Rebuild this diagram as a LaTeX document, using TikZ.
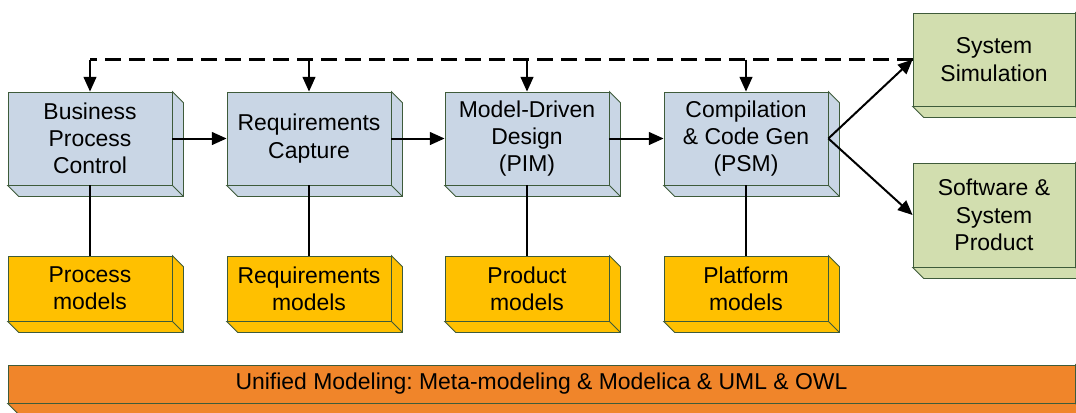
\documentclass[tikz,border=0pt]{standalone}
\usepackage{fontspec}
\setmainfont{Liberation Sans}
\usetikzlibrary{arrows.meta}
\frenchspacing
\definecolor{boxline}{HTML}{3E5B3A}
\definecolor{bluebox}{HTML}{C9D6E5}
\definecolor{yellowbox}{HTML}{FFC000}
\definecolor{greenbox}{HTML}{D2DEAF}
\definecolor{orangebox}{HTML}{F0852A}
\tikzset{
    cube/.style={draw=boxline, line width=0.6pt, inner sep=0pt, align=center,
        font=\fontsize{17.2}{20.4}\selectfont},
    stagebox/.style={cube, fill=bluebox, minimum width=123pt, minimum height=69.75pt},
    modelbox/.style={cube, fill=yellowbox, minimum width=123pt, minimum height=48.75pt},
    resultbox/.style={cube, fill=greenbox, minimum width=121.5pt},
    flow/.style={line width=1.5pt, -{Triangle[length=11pt,width=9.5pt]}},
    link/.style={line width=1.5pt},
    feedback/.style={line width=2.2pt, dash pattern=on 12pt off 6pt},
}

\begin{document}
\begin{tikzpicture}[x=0.75pt, y=-0.75pt]
            \clip (0,0) rectangle (1076,412);
            % stages
            \node[stagebox] (bpc) at (90,138.5) {Business\\Process\\Control};
            \node[stagebox] (rc) at (309,138.5) {Requirements\\Capture};
            \node[stagebox] (mdd) at (527,138.5) {Model-Driven\\Design\\(PIM)};
            \node[stagebox] (ccg) at (746,138.5) {Compilation\\\& Code Gen\\(PSM)};
            % models
            \node[modelbox] (pm) at (90,288.5) {Process\\models};
            \node[modelbox] (rm) at (309,288.5) {Requirements\\models};
            \node[modelbox] (prm) at (527,288.5) {Product\\models};
            \node[modelbox] (plm) at (746,288.5) {Platform\\models};
            % results
            \node[resultbox, minimum height=69.75pt] (sim) at (994,59.5) {System\\Simulation};
            \node[resultbox, minimum height=78pt] (prod) at (994,215) {Software \&\\System\\Product};
            \node[cube, fill=orangebox, minimum width=800.25pt, minimum height=28.5pt] (uml) at (541.5,384)
                {Unified Modeling: Meta-modeling \& Modelica \& UML \& OWL};
            % depth of the boxes
            \foreach \n/\c in {bpc/bluebox,rc/bluebox,mdd/bluebox,ccg/bluebox,
                pm/yellowbox,rm/yellowbox,prm/yellowbox,plm/yellowbox,
                sim/greenbox,prod/greenbox,uml/orangebox}{
                \filldraw[fill=\c, draw=boxline, line width=0.6pt] (\n.north east) -- ++(11,11)
                    -- ([shift={(11,11)}]\n.south east) -- ([shift={(11,11)}]\n.south west)
                    -- (\n.south west) -- (\n.south east) -- cycle;
                \draw[boxline, line width=0.6pt] (\n.south east) -- ++(11,11);
            }
            % connectors
            \draw[feedback] (sim.west) -- (bpc.north |- sim.west);
            \foreach \n in {bpc,rc,mdd,ccg}{
                \draw[flow] (\n.north |- sim.west) -- (\n.north);
            }
            \draw[flow] (bpc.east) -- (rc.west);
            \draw[flow] (rc.east) -- (mdd.west);
            \draw[flow] (mdd.east) -- (ccg.west);
            \draw[flow] (ccg.east) -- (sim.west);
            \draw[flow] (ccg.east) -- (prod.west);
            \foreach \a/\b in {bpc/pm,rc/rm,mdd/prm,ccg/plm}{
                \draw[link] (\a.south) -- (\b.north);
            }
\end{tikzpicture}
\end{document}
